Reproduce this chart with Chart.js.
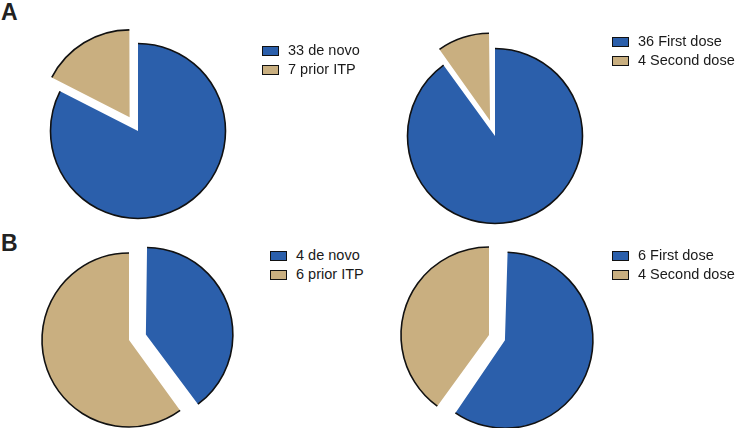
<!DOCTYPE html>
<html>
<head>
<meta charset="utf-8">
<script src="https://cdn.jsdelivr.net/npm/chart.js@4/dist/chart.umd.min.js"></script>
<style>
  html, body { margin: 0; padding: 0; background: #fff; overflow: hidden; }
  body { width: 736px; height: 428px; position: relative; font-family: "Liberation Sans", Arial, sans-serif; }
  canvas { position: absolute; }
  .panel { position: absolute; font-weight: bold; font-size: 23px; color: #222; }
  .legend { position: absolute; font-size: 14.5px; color: #1a1a1a; }
  .legend .row { height: 19px; line-height: 19px; white-space: nowrap; }
  .legend .box { display: inline-block; width: 15px; height: 8px; border: 1.5px solid #111; vertical-align: -1px; margin-right: 9px; }
</style>
</head>
<body>
<div class="panel" style="left:1px; top:-1px;">A</div>
<div class="panel" style="left:1px; top:230px;">B</div>

<script>
// categories
const originLabels = ['de novo', 'prior ITP'];
const doseLabels = ['First dose', 'Second dose'];

// patient counts per pie
const aOriginCounts = [33, 7];
const aDoseCounts = [36, 4];
const bOriginCounts = [4, 6];
const bDoseCounts = [6, 4];

const BLUE = '#2b5fab';
const TAN = '#c9af80';

// chart.js draws borders round every edge of a slice; the figure only
// outlines the curved part, so the outline is drawn here instead
const arcOutline = {
    id: 'arcOutline',
    beforeDatasetsDraw(chart) {
        let meta = chart.getDatasetMeta(0);
        let ctrl = meta.controller;
        meta.data.forEach(arc => {
            let off = (arc.options.offset || 0) / 4;
            let fix = 1 - Math.sin(Math.min(Math.PI, arc.circumference));
            // keep the pulled-out slice the same size as the rest
            arc.outerRadius = ctrl.outerRadius - off * fix;
        });
    },
    afterDatasetsDraw(chart) {
        let ctx = chart.ctx;
        let meta = chart.getDatasetMeta(0);
        meta.data.forEach(arc => {
            let off = (arc.options.offset || 0) / 4;
            let fix = 1 - Math.sin(Math.min(Math.PI, arc.circumference));
            let half = (arc.startAngle + arc.endAngle) / 2;
            let r = arc.outerRadius + off * fix;
            let alpha = arc.endAngle - arc.startAngle;
            let beta = Math.max(0.001, alpha * r - off * fix / Math.PI) / r;
            let a0 = arc.startAngle + (alpha - beta) / 2;
            ctx.save();
            ctx.translate(Math.cos(half) * off, Math.sin(half) * off);
            ctx.beginPath();
            ctx.arc(arc.x, arc.y, r, a0, a0 + beta);
            ctx.lineWidth = 1.6;
            ctx.strokeStyle = '#111';
            ctx.stroke();
            ctx.restore();
        });
    }
};

function makePie(cx, cy, radius, labels, counts, offsets, legendX, legendY) {
    let size = 250;
    let canvas = document.createElement('canvas');
    canvas.width = size;
    canvas.height = size;
    canvas.style.left = (cx - size / 2) + 'px';
    canvas.style.top = (cy - size / 2) + 'px';
    document.body.appendChild(canvas);

    new Chart(canvas.getContext('2d'), {
        type: 'pie',
        data: {
            labels: labels,
            datasets: [{
                data: counts,
                backgroundColor: [BLUE, TAN],
                borderWidth: 0,
                offset: offsets,
                radius: radius
            }]
        },
        options: {
            responsive: false,
            animation: false,
            events: [],
            layout: { padding: 0 },
            plugins: {
                legend: { display: false },
                tooltip: { enabled: false }
            }
        },
        plugins: [arcOutline]
    });

    let legend = document.createElement('div');
    legend.className = 'legend';
    legend.style.left = legendX + 'px';
    legend.style.top = legendY + 'px';
    let colors = [BLUE, TAN];
    for (let i = 0; i < labels.length; i++) {
        let row = document.createElement('div');
        row.className = 'row';
        let box = document.createElement('span');
        box.className = 'box';
        box.style.background = colors[i];
        row.appendChild(box);
        row.appendChild(document.createTextNode(counts[i] + ' ' + labels[i]));
        legend.appendChild(row);
    }
    document.body.appendChild(legend);
}

makePie(137.5, 130.5, 87.5, originLabels, aOriginCounts, [0, 64], 262, 41);
makePie(494.5, 135.5, 87.5, doseLabels, aDoseCounts, [0, 64], 612, 32);
makePie(129, 340, 87, originLabels, bOriginCounts, [71, 0], 270, 246);
makePie(489, 335, 88, doseLabels, bDoseCounts, [67, 0], 612, 246);
</script>
</body>
</html>
